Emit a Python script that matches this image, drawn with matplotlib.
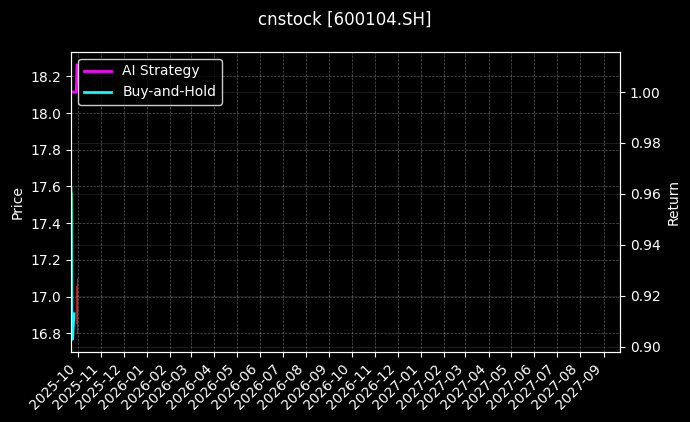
import matplotlib
matplotlib.use("Agg")
import matplotlib.pyplot as plt
import matplotlib.dates as mdates
import pandas as pd

plt.style.use("dark_background")

title = "cnstock [600104.SH]"

# Candles (price axis)
candle_dates = ["2025-09-23", "2025-09-30"]
candle_open = [17.55, 16.85]
candle_high = [17.57, 17.10]
candle_low = [16.88, 16.80]
candle_close = [16.95, 17.06]

# Return curves
ret_dates = ["2025-09-22", "2025-09-23", "2025-09-24", "2025-09-25", "2025-09-26"]
buy_hold = [0.962, 0.906, 0.903, 0.908, 0.913]

ai_dates = ["2025-09-24", "2025-09-25", "2025-09-26", "2025-09-29", "2025-09-30"]
ai_strategy = [1.000, 1.000, 1.000, 1.000, 1.0106]

x_start, x_end = "2025-09-22", "2027-09-23"

fig = plt.figure(figsize=(6.9, 4.22), dpi=100)
ax = fig.add_axes([0.1029, 0.1659, 0.7957, 0.7109])
ax2 = ax.twinx()

cd = pd.to_datetime(candle_dates)
for d, o, h, l, c in zip(cd, candle_open, candle_high, candle_low, candle_close):
    col = "#d62728" if c >= o else "#2ca02c"
    ax.vlines(d, l, h, color=col, linewidth=0.8, alpha=0.8)
    ax.vlines(d, min(o, c), max(o, c), color=col, linewidth=1.6, alpha=0.8)

ax2.plot(pd.to_datetime(ai_dates), ai_strategy, color="magenta", lw=2, label="AI Strategy")
ax2.plot(pd.to_datetime(ret_dates), buy_hold, color="cyan", lw=2, label="Buy-and-Hold")

ax.set_xlim(pd.Timestamp(x_start), pd.Timestamp(x_end))
ax.set_ylim(16.698, 18.333)
ax2.set_ylim(0.898, 1.0157)

ax.xaxis.set_major_locator(mdates.MonthLocator())
ax.xaxis.set_major_formatter(mdates.DateFormatter("%Y-%m"))
for lab in ax.get_xticklabels():
    lab.set_rotation(45)
    lab.set_ha("right")

ax.set_ylabel("Price")
ax2.set_ylabel("Return")
ax.grid(True, linestyle="--", linewidth=0.5, alpha=0.35)
ax2.yaxis.grid(True, linestyle="-", linewidth=0.5, alpha=0.15)

leg = ax2.legend(loc="upper left", frameon=True)
leg.get_frame().set_edgecolor("white")
leg.get_frame().set_facecolor("black")

fig.suptitle(title, fontsize=12, y=0.975)

fig.savefig("out.png", dpi=100)
